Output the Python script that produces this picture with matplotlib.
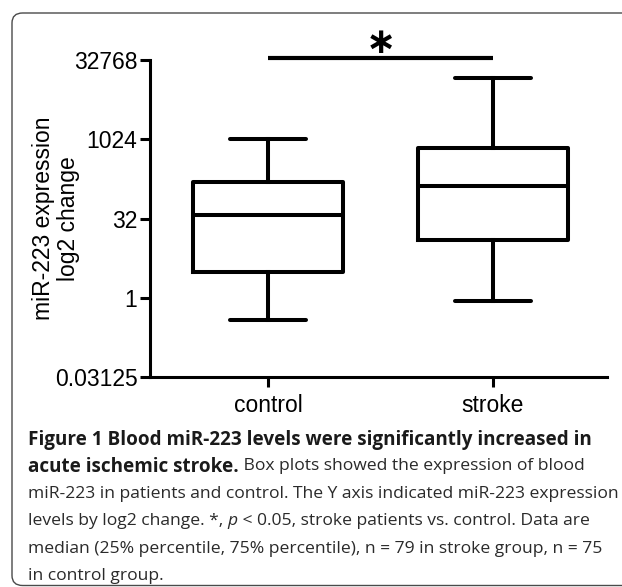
import matplotlib
matplotlib.use("Agg")
import matplotlib.pyplot as plt
from matplotlib.patches import FancyBboxPatch

groups = ["control", "stroke"]
whislo = [0.38, 0.88]
q1 = [3.1, 12.4]
med = [38, 134]
q3 = [159, 694]
whishi = [1024, 15000]
yticks = [2**-5, 2**0, 2**5, 2**10, 2**15]
ytick_labels = ["0.03125", "1", "32", "1024", "32768"]
sig_level = 2**15.12
star_level = 2**16.1

caption_lines = [
    [("Figure 1 Blood miR-223 levels were significantly increased in", "bold")],
    [("acute ischemic stroke.", "bold"), (" Box plots showed the expression of blood", "normal")],
    [("miR-223 in patients and control. The Y axis indicated miR-223 expression", "normal")],
    [("levels by log2 change. *, ", "normal"), ("p", "italic"), (" < 0.05, stroke patients vs. control. Data are", "normal")],
    [("median (25% percentile, 75% percentile), n = 79 in stroke group, n = 75", "normal")],
    [("in control group.", "normal")],
]

W, H = 622, 587
fig = plt.figure(figsize=(W/100, H/100), dpi=100)

# frame
frame = FancyBboxPatch((12/W, 1.5/H), (W + 30 - 12)/W, (H - 13 - 1.5)/H,
                       boxstyle="round,pad=0,rounding_size=0.017",
                       transform=fig.transFigure, facecolor="none",
                       edgecolor="#4a4a4a", lw=1.0, zorder=-5)
fig.patches.append(frame)

left, right, top, bottom = 150, 607, 60, 377
ax = fig.add_axes([left/W, 1 - bottom/H, (right-left)/W, (bottom-top)/H])
ax.set_facecolor("none")

stats = []
for i, g in enumerate(groups):
    stats.append(dict(label=g, whislo=whislo[i], q1=q1[i], med=med[i],
                      q3=q3[i], whishi=whishi[i], fliers=[]))
lw = 2.9
ax.bxp(stats, positions=[1, 2], widths=0.667, capwidths=0.34, showfliers=False,
       boxprops=dict(lw=lw, color="black"),
       medianprops=dict(lw=lw, color="black", solid_capstyle="butt"),
       whiskerprops=dict(lw=lw, color="black"),
       capprops=dict(lw=lw, color="black", solid_capstyle="round"))

ax.set_yscale("log", base=2)
ax.set_ylim(2**-5, 2**15)
ax.set_xlim(0.4756, 2.507)
ax.set_yticks(yticks)
ax.set_yticklabels(ytick_labels)
ax.minorticks_off()
ax.set_xticks([1, 2])
ax.set_xticklabels(groups)
for s in ["top", "right"]:
    ax.spines[s].set_visible(False)
for s in ["left", "bottom"]:
    ax.spines[s].set_linewidth(2.2)
ax.tick_params(axis="both", width=2.2, length=7, labelsize=16.5, colors="black")
ax.tick_params(axis="x", pad=5)
ax.tick_params(axis="y", pad=2)
for t in ax.get_xticklabels() + ax.get_yticklabels():
    t.set_fontfamily("Liberation Sans")
ax.yaxis.set_label_coords(-94/(right-left), 0.5)
ax.set_ylabel("miR-223 expression\nlog2 change", fontsize=16.5,
              fontfamily="Liberation Sans", linespacing=1.1, va="center")

# significance bar
ax.plot([1, 2], [sig_level, sig_level], color="black", lw=3,
        solid_capstyle="butt", clip_on=False)
ax.text(1.5, star_level, "\u2217", ha="center", va="center", fontsize=26,
        fontweight="bold", fontfamily="DejaVu Sans")

# caption
fig.canvas.draw()
renderer = fig.canvas.get_renderer()
y0 = 437
dy = 27.4
for li, parts in enumerate(caption_lines):
    y = 1 - (y0 + li*dy)/H
    xpx = 28
    for txt, style in parts:
        kw = dict(fontsize=12.6, fontfamily="Open Sans", va="center_baseline", ha="left",
                  color="#2a2a2a")
        if style == "bold":
            kw["fontweight"] = "bold"
            kw["fontsize"] = 13.6
            kw["color"] = "#1a1a1a"
        if style == "italic":
            kw["fontstyle"] = "italic"
        t = fig.text(xpx/W, y, txt.replace(" ", "\u00a0") if txt.startswith(" ") else txt, **kw)
        bb = t.get_window_extent(renderer=renderer)
        xpx = bb.x1

fig.savefig("out.png", dpi=100)
